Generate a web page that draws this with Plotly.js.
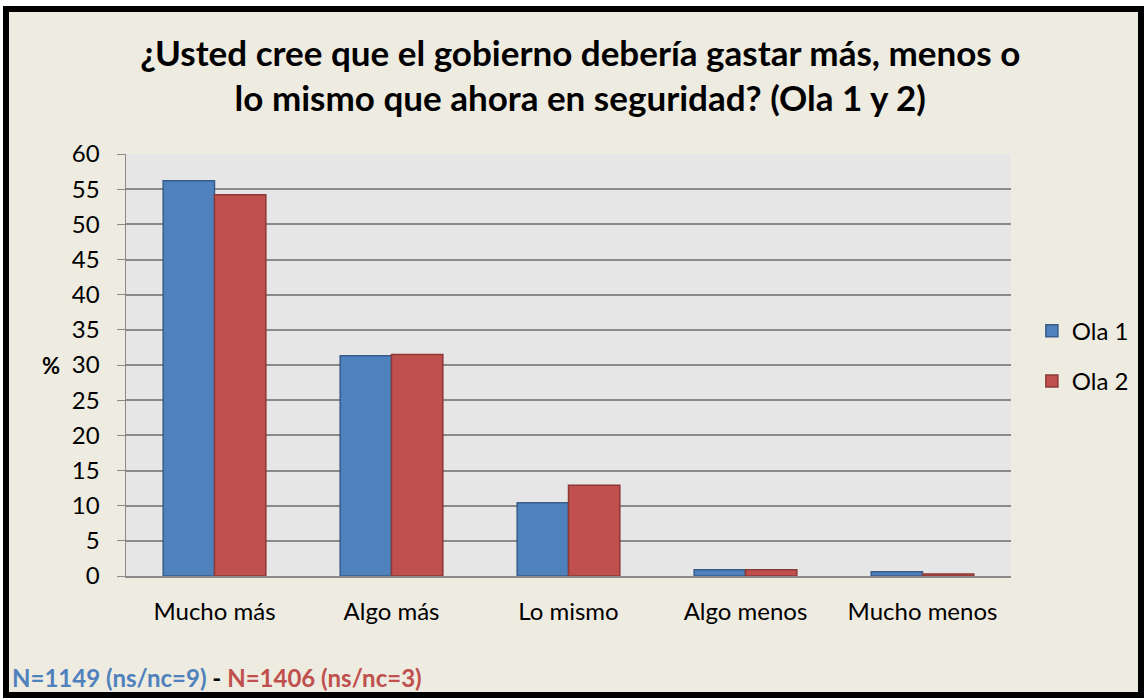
<!DOCTYPE html>
<html><head><meta charset="utf-8">
<script src="https://cdn.plot.ly/plotly-3.0.1.min.js"></script>
<style>
html,body{margin:0;padding:0;background:#fff;width:1147px;height:698px;overflow:hidden}
#frame{position:absolute;left:3px;top:6px;border:6px solid #000;width:1129px;height:680px;background:#EEEBE0}
#chart{width:1129px;height:680px}
</style></head><body>
<div id="frame"><div id="chart"></div></div>
<script>
const categories = ["Mucho más", "Algo más", "Lo mismo", "Algo menos", "Mucho menos"];
const ola1 = [56.2, 31.3, 10.4, 0.9, 0.6];
const ola2 = [54.2, 31.5, 12.9, 0.9, 0.3];
const seriesNames = ["Ola 1", "Ola 2"];
const yTicks = [0,5,10,15,20,25,30,35,40,45,50,55,60];

const font = "Lato, 'Open Sans', sans-serif";
const traces = [
  {type:"bar", name:seriesNames[0], x:categories, y:ola1, legendgroup:"a",
   marker:{color:"#4F81BD", line:{color:"#385D8A", width:1.5}}},
  {type:"bar", name:seriesNames[1], x:categories, y:ola2, legendgroup:"b",
   marker:{color:"#C0504D", line:{color:"#8C3836", width:1.5}}}
];
const layout = {
  width:1129, height:680,
  paper_bgcolor:"#EEEBE0", plot_bgcolor:"#E6E6E6",
  margin:{l:117, r:127, t:142, b:116},
  barmode:"group", bargap:0.42, bargroupgap:0,
  font:{family:font, size:24, color:"#000"},
  title:{text:"<b>¿Usted cree que el gobierno debería gastar más, menos o<br>lo mismo que ahora en seguridad? (Ola 1 y 2)</b>",
    font:{family:font, size:35, color:"#000"}, xref:"container", x:0.506, xanchor:"center",
    yref:"container", y:0.921, yanchor:"middle"},
  xaxis:{showgrid:false, showline:true, linecolor:"#8A8A8A", linewidth:2, tickfont:{size:24},
    ticks:"outside", ticklen:13, tickcolor:"rgba(0,0,0,0)"},
  yaxis:{range:[0,60], tickvals:yTicks, showgrid:true, gridcolor:"#8A8A8A", gridwidth:2,
    showline:true, linecolor:"#8A8A8A", linewidth:1.5, ticks:"outside", ticklen:8, tickcolor:"#8A8A8A",
    ticklabelstandoff:12, tickfont:{size:24}, zeroline:false},
  legend:{xref:"container", yref:"container", x:0.906, xanchor:"left", y:0.494, yanchor:"middle",
    bgcolor:"rgba(0,0,0,0)", font:{size:24}, traceorder:"grouped", tracegroupgap:16},
  annotations:[
    {text:"<b>%</b>", xref:"paper", yref:"paper", x:-0.0974, y:0.498, showarrow:false, font:{size:22}},
    {text:"<b><span style='color:#4F81BD'>N=1149 (ns/nc=9)</span> - <span style='color:#C0504D'>N=1406 (ns/nc=3)</span></b>",
     xref:"paper", yref:"paper", x:-0.1314, xanchor:"left", y:-0.241, yanchor:"middle", showarrow:false, font:{size:24}}
  ]
};
Plotly.newPlot("chart", traces, layout, {displayModeBar:false, staticPlot:true});
</script></body></html>
